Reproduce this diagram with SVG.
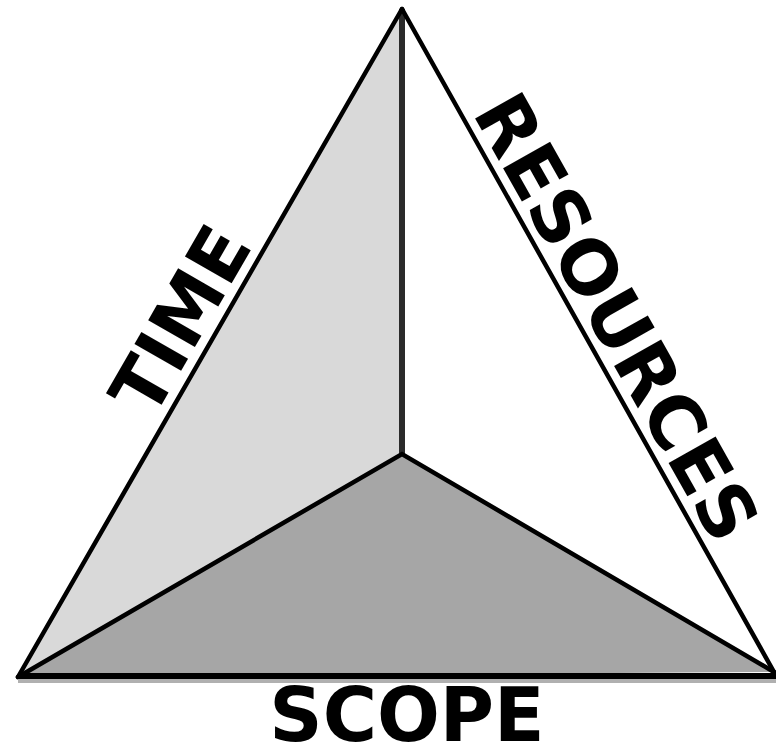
<svg xmlns="http://www.w3.org/2000/svg" width="776" height="752" viewBox="0 0 776 752">
<style>
.lbl{font-family:"DejaVu Sans","Verdana",sans-serif;font-weight:bold;font-size:74px;fill:#000;text-anchor:middle}
.edge{stroke:#000;stroke-width:4.5;fill:none;stroke-linejoin:miter;stroke-linecap:round}
</style>
<rect width="776" height="752" fill="#fff"/>
<g id="faces">
<polygon id="face-time" points="402,9 18,677 402,454" fill="#d9d9d9"/>
<polygon id="face-resources" points="402,9 402,454 774,672" fill="#ffffff"/>
<polygon id="face-scope" points="18,677 402,454 774,672" fill="#a6a6a6"/>
</g>
<g id="connectors">
<line x1="402" y1="9" x2="402" y2="454" stroke="#2b2b2b" stroke-width="6"/>
<polyline class="edge" points="18,677 402,454 774,672"/>
<line class="edge" x1="402" y1="9" x2="18" y2="677"/>
<line class="edge" x1="402" y1="9" x2="774" y2="672"/>
<line x1="18" y1="680" x2="776" y2="680" stroke="#b0b0b0" stroke-width="6"/>
<line x1="18" y1="676" x2="776" y2="676" stroke="#000" stroke-width="6"/>
</g>
<g id="label-time"><text class="lbl" transform="translate(203,333) rotate(-60.07)">TIME</text></g>
<g id="label-resources"><text class="lbl" transform="translate(594,330) rotate(60.67)">RESOURCES</text></g>
<g id="label-scope"><text class="lbl" x="407" y="741">SCOPE</text></g>
</svg>
